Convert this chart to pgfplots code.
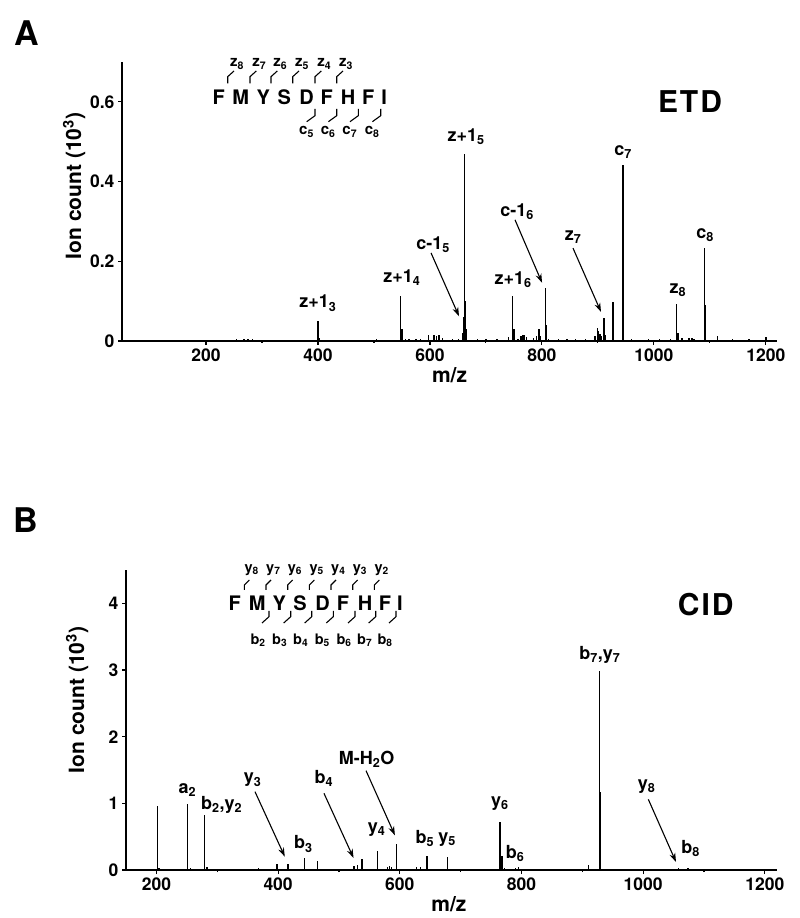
\documentclass[border=0pt]{standalone}
\usepackage{fontspec}
\setmainfont{TeX Gyre Heros}
\usepackage{pgfplots}
\pgfplotsset{compat=1.18}
\usetikzlibrary{arrows.meta}

\newcommand\fs[1]{\fontsize{#1}{#1}\selectfont\bfseries}
\newcommand\sub[1]{\textsubscript{#1}}

\pgfplotsset{
  spec/.style={
    scale only axis, anchor=south west,
    axis lines*=left,
    axis line style={line width=1.5pt},
    tick align=outside, tick pos=left,
    major tick length=4pt, minor tick length=2pt,
    every tick/.style={line width=1.2pt,black},
    minor x tick num=1,
    xtick={200,400,...,1200},
    /pgf/number format/assume math mode=true,
    /pgf/number format/1000 sep={},
    tick label style={font=\fs{17.5}},
    label style={font=\fs{21}},
    xlabel={m/z},
    ylabel={Ion count (10\textsuperscript{3})},
    clip=false,
  },
  peak/.style={ycomb, black, line width=1.4pt},
}
\tikzset{
  lab/.style={font=\fs{18}, inner sep=0pt},
  arr/.style={-{Stealth[length=9pt,width=6pt]}, line width=1.1pt},
}

\begin{document}
\begin{tikzpicture}
\path[use as bounding box] (0,0) rectangle (800pt,918pt);

% ---------------- A: ETD
\begin{axis}[spec,
  at={(122pt,577pt)}, width=655pt, height=279pt,
  xmin=50, xmax=1220, ymin=0, ymax=0.7,
  ytick={0,0.2,0.4,0.6},
  yticklabel style={/pgf/number format/fixed,/pgf/number format/precision=1},
  xlabel style={at={(axis description cs:0.5,-0.122)}, anchor=center},
  ylabel style={at={(axis description cs:-0.073,0.556)}, anchor=center},
]
\addplot[peak] table {
x y
255 0.004
268 0.005
275 0.004
283 0.005
350 0.003
400 0.051
402 0.008
460 0.003
505 0.004
530 0.003
548 0.112
550 0.03
556 0.006
563 0.005
575 0.005
583 0.006
597 0.014
607 0.015
612 0.012
616 0.016
622 0.008
640 0.005
651 0.006
658 0.02
660 0.06
662 0.468
663 0.10
665 0.03
685 0.005
700 0.004
720 0.006
740 0.01
748 0.112
750 0.03
757 0.006
763 0.012
766 0.016
769 0.016
773 0.01
785 0.008
790 0.012
795 0.031
798 0.012
806 0.132
808 0.04
812 0.006
830 0.006
845 0.005
860 0.005
878 0.005
895 0.012
899 0.033
901 0.025
904 0.018
907 0.012
911 0.058
914 0.015
927 0.098
945 0.442
946 0.10
960 0.005
990 0.005
1010 0.005
1030 0.006
1041 0.092
1043 0.02
1050 0.007
1063 0.008
1068 0.008
1072 0.006
1091 0.233
1092 0.09
1114 0.012
1140 0.004
1170 0.004
1200 0.009
};
\node[lab] at (400,0.095) {z+1\sub{3}};
\node[lab] at (550,0.158) {z+1\sub{4}};
\node[lab] at (605.6,0.241) {c-1\sub{5}};
\draw[arr] (602,0.221) -- (652,0.062);
\node[lab] at (664.5,0.512) {z+1\sub{5}};
\node[lab] at (748.5,0.153) {z+1\sub{6}};
\node[lab] at (755.6,0.324) {c-1\sub{6}};
\draw[arr] (752,0.304) -- (800.3,0.146);
\node[lab] at (855.6,0.261) {z\sub{7}};
\draw[arr] (855.6,0.233) -- (905.6,0.073);
\node[lab] at (945,0.474) {c\sub{7}};
\node[lab] at (1043,0.128) {z\sub{8}};
\node[lab] at (1091.5,0.266) {c\sub{8}};
\node[font=\fs{30}] at (1064.6,0.6) {E\kern2pt T\kern2pt D};
\end{axis}

% ---------------- B: CID
\begin{axis}[spec,
  at={(126pt,48pt)}, width=651pt, height=300pt,
  xmin=150, xmax=1220, ymin=0, ymax=4.5,
  ytick={0,1,2,3,4},
  xlabel style={at={(axis description cs:0.496,-0.113)}, anchor=center},
  ylabel style={at={(axis description cs:-0.075,0.567)}, anchor=center},
]
\addplot[peak] table {
x y
202 0.96
204 0.03
232 0.02
251 0.985
256 0.03
262 0.02
279 0.825
283 0.04
285 0.02
330 0.01
368 0.03
398 0.095
416 0.095
443 0.18
453 0.02
465 0.13
500 0.02
510 0.02
525 0.06
530 0.08
538 0.17
563 0.29
580 0.05
583 0.06
586 0.05
595 0.395
610 0.015
627 0.04
634 0.04
645 0.21
660 0.015
678 0.2
700 0.015
720 0.01
740 0.01
765 0.72
768 0.21
772 0.03
790 0.03
795 0.04
800 0.01
850 0.01
880 0.01
910 0.08
928 2.98
929 1.17
975 0.01
1000 0.01
1058 0.03
1074 0.035
1100 0.01
1150 0.008
};
\node[lab] at (251,1.2) {a\sub{2}};
\node[lab] at (307.3,0.975) {b\sub{2},y\sub{2}};
\node[lab] at (358.3,1.35) {y\sub{3}};
\draw[arr] (362,1.175) -- (411,0.2);
\node[lab] at (441.4,0.39) {b\sub{3}};
\node[lab] at (475.4,1.375) {b\sub{4}};
\draw[arr] (475.4,1.15) -- (524,0.18);
\node[lab] at (562,0.61) {y\sub{4}};
\node[lab] at (545.6,1.66) {M-H\sub{2}O};
\draw[arr] (544.5,1.49) -- (592,0.52);
\node[lab] at (641.4,0.475) {b\sub{5}};
\node[lab] at (678,0.46) {y\sub{5}};
\node[lab] at (764.7,1.0) {y\sub{6}};
\node[lab] at (789.4,0.25) {b\sub{6}};
\node[lab] at (929,3.225) {b\sub{7},y\sub{7}};
\node[lab] at (1005.8,1.25) {y\sub{8}};
\draw[arr] (1008.5,1.06) -- (1054,0.12);
\node[lab] at (1078,0.325) {b\sub{8}};
\node[font=\fs{30}] at (1103,3.975) {C\kern2pt I\kern2pt D};
\end{axis}

% panel letters
\node[font=\fs{34}] at (27pt,885pt) {A};
\node[font=\fs{34}] at (26pt,398pt) {B};

% ---- sequence A
\foreach \x/\l in {218.8/F,240.8/M,263.3/Y,284.2/S,306.7/D,326.7/F,348.2/H,368.3/F,384.2/I}
  \node[font=\fs{20},inner sep=0pt] at (\x pt,821pt) {\l};
\foreach \x/\n in {227.7/8,250/7,271/6,292.7/5,315/4,336.7/3}{
  \draw[line width=1.1pt] (\x pt,834.7pt) -- (\x pt,841.3pt) -- (\x pt+6.3pt,847pt);
  \node[font=\fs{15},inner sep=0pt] at (\x pt+9.3pt,854pt) {z\sub{\n}};
}
\foreach \x/\n in {315/5,336.7/6,358.3/7,380.7/8}{
  \draw[line width=1.1pt] (\x pt,809pt) -- (\x pt,802.3pt) -- (\x pt-8.3pt,796.3pt);
  \node[font=\fs{15},inner sep=0pt] at (\x pt-8.5pt,786.3pt) {c\sub{\n}};
}

% ---- sequence B
\foreach \x/\l in {234.7/F,257.2/M,279.2/Y,300/S,322.5/D,343/F,365/H,385/F,400/I}
  \node[font=\fs{20},inner sep=0pt] at (\x pt,315.2pt) {\l};
\foreach \x/\n in {244.3/8,266/7,287.7/6,309.3/5,331/4,352.7/3,374.3/2}{
  \draw[line width=1.1pt] (\x pt,328pt) -- (\x pt,333pt) -- (\x pt+5pt,338pt);
  \node[font=\fs{14.5},inner sep=0pt] at (\x pt+7.3pt,348pt) {y\sub{\n}};
}
\foreach \x/\n in {269/2,290.7/3,311.7/4,333.3/5,355/6,375.7/7,396/8}{
  \draw[line width=1.1pt] (\x pt,307pt) -- (\x pt,301.3pt) -- (\x pt-7pt,295pt);
  \node[font=\fs{14.5},inner sep=0pt] at (\x pt-11pt,278pt) {b\sub{\n}};
}
\end{tikzpicture}
\end{document}
